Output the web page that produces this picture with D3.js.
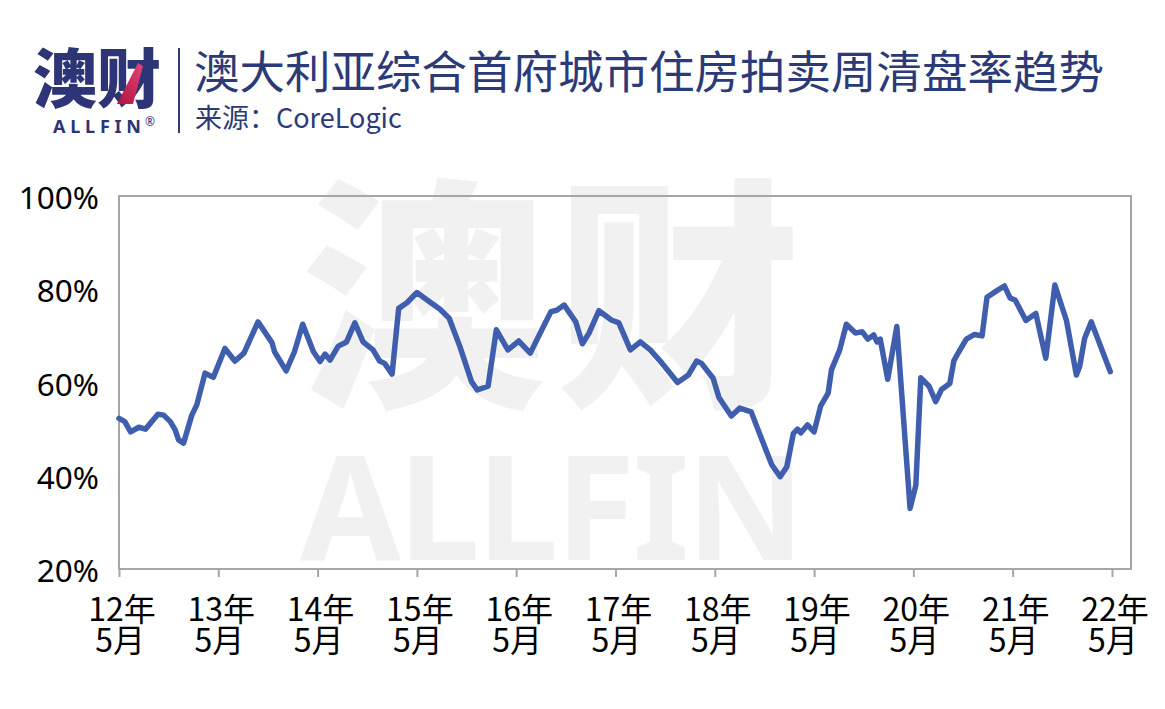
<!DOCTYPE html>
<html>
<head>
<meta charset="utf-8">
<script src="https://cdn.jsdelivr.net/npm/d3@7"></script>
<style>
  body { margin: 0; background: #fff; }
  svg { display: block; }
</style>
</head>
<body>
<div class="chart"></div>
<script>
// months after May 2012, clearance rate %
const months = [0, 0.7, 1.4, 2.4, 3.2, 4.7, 5.4, 6.2, 6.8, 7.2, 7.8, 8.8, 9.4, 10.4, 11.4, 12.8, 14.0, 15.1, 16.8, 18.5,
  18.8, 20.2, 21.2, 22.2, 23.5, 24.3, 24.9, 25.5, 26.5, 27.5, 28.5, 29.5, 30.7, 31.5, 32.1, 33.0, 33.8, 34.8, 36.0, 37.4,
  38.8, 39.9, 41.2, 42.6, 43.3, 44.6, 45.6, 47.0, 48.3, 49.7, 51.1, 52.2, 52.9, 53.8, 55.2, 56.0, 56.8, 58.0, 59.5, 60.4,
  61.8, 63.0, 64.2, 65.6, 67.5, 68.8, 69.8, 70.4, 71.8, 72.5, 74.0, 75.0, 76.4, 77.7, 78.9, 79.9, 80.7, 81.5, 82.0, 82.4,
  83.2, 84.0, 84.8, 85.7, 86.1, 87.1, 87.9, 89.0, 89.8, 90.5, 91.2, 91.6, 92.0, 92.9, 94.0, 95.6, 96.3, 96.9, 97.9, 98.7,
  99.4, 100.4, 100.9, 101.5, 102.4, 103.4, 104.3, 104.9, 106.1, 107.0, 107.7, 108.3, 109.6, 110.8, 112.0, 113.1, 114.5, 115.7, 116.1, 116.7,
  117.5, 119.8]
const rates = [52.3, 51.6, 49.4, 50.4, 50.0, 53.2, 53.0, 51.6, 49.8, 47.7, 47.0, 53.0, 55.2, 62.0, 61.1, 67.3, 64.6, 66.3, 73.0, 68.5,
  66.6, 62.5, 66.6, 72.5, 66.6, 64.5, 66.1, 64.8, 67.8, 68.7, 72.8, 68.7, 67.0, 64.6, 64.1, 61.8, 75.9, 77.1, 79.3, 77.5,
  75.7, 73.8, 67.7, 60.2, 58.4, 59.2, 71.3, 67.0, 68.9, 66.3, 71.3, 75.2, 75.5, 76.6, 73.0, 68.3, 70.6, 75.4, 73.4, 72.8,
  67.0, 68.7, 67.0, 64.2, 60.0, 61.6, 64.6, 64.1, 60.9, 56.8, 52.8, 54.5, 53.7, 47.7, 42.3, 39.8, 41.9, 49.1, 50.0, 49.2,
  50.9, 49.4, 55.0, 57.7, 62.7, 67.0, 72.5, 70.6, 70.9, 69.3, 70.2, 68.7, 69.3, 60.7, 72.0, 33.0, 38.0, 61.0, 59.2, 55.9,
  58.5, 59.8, 64.7, 66.6, 69.3, 70.3, 70.0, 78.3, 79.7, 80.7, 78.1, 77.7, 73.3, 74.8, 65.2, 80.9, 73.3, 61.6, 63.5, 69.5,
  73.0, 62.3]

const yearLabels = ['12年', '13年', '14年', '15年', '16年', '17年', '18年', '19年', '20年', '21年', '22年']
const monthLabel = '5月'
const yTicks = [20, 40, 60, 80, 100]

const title = '澳大利亚综合首府城市住房拍卖周清盘率趋势'
const source = '来源：CoreLogic'

const W = 1165, H = 709
const margin = { top: 196, right: 34, bottom: 140, left: 119 }
const width = W - margin.left - margin.right
const height = H - margin.top - margin.bottom

const navy = '#2c3a78'
const cjk = '"Noto Sans CJK SC", "Noto Sans", sans-serif'

const svg = d3.select('.chart').append('svg')
  .attr('width', W)
  .attr('height', H)

// watermark
const wm = svg.append('g').attr('fill', '#f0f1f0')
wm.append('text')
  .attr('x', 551).attr('y', 388)
  .attr('text-anchor', 'middle')
  .attr('font-family', cjk)
  .attr('font-weight', 900)
  .attr('font-size', 245)
  .attr('textLength', 500)
  .attr('lengthAdjust', 'spacing')
  .text('澳财')
wm.append('text')
  .attr('x', 300).attr('y', 560)
  .attr('font-family', '"Noto Sans", sans-serif')
  .attr('font-weight', 700)
  .attr('font-size', 146)
  .attr('textLength', 505)
  .attr('lengthAdjust', 'spacing')
  .text('ALLFIN')

// header: logo
const logo = svg.append('g')
logo.append('text')
  .attr('x', 97).attr('y', 102)
  .attr('text-anchor', 'middle')
  .attr('font-family', cjk)
  .attr('font-weight', 900)
  .attr('font-size', 64)
  .attr('fill', '#2d3577')
  .text('澳财')
const grad = svg.append('defs').append('linearGradient')
  .attr('id', 'pink').attr('x1', '0%').attr('y1', '100%').attr('x2', '100%').attr('y2', '0%')
grad.append('stop').attr('offset', '0%').attr('stop-color', '#b0123a')
grad.append('stop').attr('offset', '100%').attr('stop-color', '#e2467a')
logo.append('path')
  .attr('d', 'M117,104 L133,104 L143,66 L138,63 Z')
  .attr('fill', 'url(#pink)')
logo.append('text')
  .attr('x', 53).attr('y', 133)
  .attr('font-family', '"Noto Sans", sans-serif')
  .attr('font-weight', 700)
  .attr('font-size', 18)
  .attr('textLength', 88)
  .attr('lengthAdjust', 'spacing')
  .attr('fill', '#2d3577')
  .text('ALLFIN')
logo.append('text')
  .attr('x', 145).attr('y', 126)
  .attr('font-family', '"Noto Sans", sans-serif')
  .attr('font-size', 12)
  .attr('fill', '#2d3577')
  .text('®')
svg.append('line')
  .attr('x1', 179).attr('x2', 179).attr('y1', 48).attr('y2', 133)
  .attr('stroke', navy).attr('stroke-width', 2)

svg.append('text')
  .attr('x', 194).attr('y', 89)
  .attr('font-family', cjk)
  .attr('font-size', 45.5)
  .attr('fill', navy)
  .text(title)
svg.append('text')
  .attr('x', 195).attr('y', 128)
  .attr('font-family', cjk)
  .attr('font-size', 27)
  .attr('fill', navy)
  .text(source)

// chart
const g = svg.append('g').attr('transform', `translate(${margin.left},${margin.top})`)

const x = d3.scaleLinear().domain([0, 122.3]).range([0, width])
const y = d3.scaleLinear().domain([20, 100]).range([height, 0])

g.append('rect')
  .attr('width', width).attr('height', height)
  .attr('fill', 'none')
  .attr('stroke', '#a6a6a6')
  .attr('stroke-width', 2)

const xAxis = g.append('g')
  .attr('transform', `translate(0,${height})`)
  .call(d3.axisBottom(x).tickValues(d3.range(0, 121, 12)).tickSize(8).tickFormat(''))
xAxis.select('.domain').remove()
xAxis.selectAll('line').attr('stroke', '#a6a6a6').attr('stroke-width', 2)

const xl = g.append('g')
  .attr('font-family', cjk)
  .attr('font-size', 32)
  .attr('fill', '#000')
  .attr('text-anchor', 'middle')
yearLabels.forEach((lab, i) => {
  xl.append('text').attr('x', x(i * 12) + 3).attr('y', height + 52).text(lab)
  xl.append('text').attr('x', x(i * 12) + 1).attr('y', height + 83).text(monthLabel)
})

const yAxis = g.append('g')
  .call(d3.axisLeft(y).tickValues(yTicks).tickSize(0).tickPadding(20).tickFormat(d => d + '%'))
yAxis.select('.domain').remove()
yAxis.selectAll('text')
  .attr('font-family', '"Noto Sans", sans-serif')
  .attr('font-size', 31.5)
  .attr('fill', '#000')
  .attr('dy', '0.4em')

const data = months.map((m, i) => ({ m: m, v: rates[i] }))
const line = d3.line().x(d => x(d.m)).y(d => y(d.v))
g.append('path')
  .datum(data)
  .attr('d', line)
  .attr('fill', 'none')
  .attr('stroke', '#3f5fae')
  .attr('stroke-width', 5.5)
  .attr('stroke-linejoin', 'round')
  .attr('stroke-linecap', 'round')
</script>
</body>
</html>
